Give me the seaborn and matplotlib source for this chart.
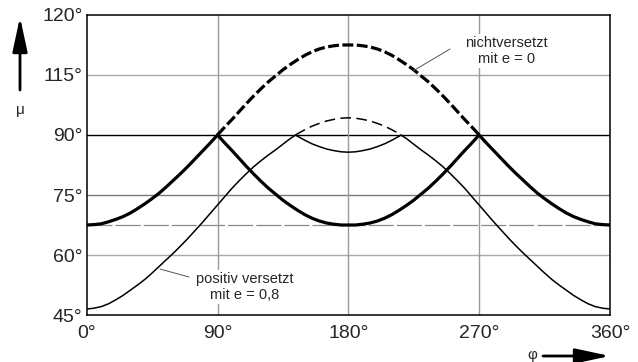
import numpy as np
import pandas as pd
import matplotlib
matplotlib.use("Agg")
import matplotlib.pyplot as plt
import seaborn as sns

# ---------------- data ----------------
# crank angle, 0° .. 180° (curves are symmetric about 180°)
phi_half = [0, 5, 10, 15, 20, 25, 30, 35, 40, 45, 50, 55, 60, 65, 70, 75, 80, 85, 90,
            95, 100, 105, 110, 115, 120, 125, 130, 135, 140, 145, 150, 155, 160, 165,
            170, 175, 180]
# transmission angle, non-offset (e = 0)
mu_e0_half = [67.5, 67.6, 67.8, 68.3, 68.9, 69.6, 70.5, 71.6, 72.8, 74.1, 75.5, 77.1,
              78.8, 80.5, 82.3, 84.2, 86.1, 88.0, 90.0, 92.0, 93.9, 95.9, 97.9, 99.8,
              101.6, 103.3, 104.8, 106.3, 107.6, 108.8, 109.9, 110.8, 111.5, 112.0,
              112.3, 112.5, 112.5]
# transmission angle, positive offset (e = 0.8)
mu_e08_half = [46.5, 46.7, 47.1, 47.8, 48.8, 49.9, 51.2, 52.5, 53.9, 55.5, 57.2, 58.9,
               60.6, 62.4, 64.3, 66.3, 68.3, 70.4, 72.5, 74.6, 76.7, 78.6, 80.4, 82.1,
               83.6, 85.0, 86.3, 87.7, 89.1, 90.3, 91.3, 92.2, 92.9, 93.5, 93.9, 94.2,
               94.3]

x_ticks = [0, 90, 180, 270, 360]
x_labels = ["0°", "90°", "180°", "270°", "360°"]
y_ticks = [45, 60, 75, 90, 105, 120]
y_labels = ["45°", "60°", "75°", "90°", "115°", "120°"]
ref_line = 67.5

# full revolution (mirror of the read half)
phi = phi_half + [360 - p for p in phi_half[-2::-1]]
mu_e0 = mu_e0_half + mu_e0_half[-2::-1]
mu_e08 = mu_e08_half + mu_e08_half[-2::-1]


# ---------------- helpers ----------------
def with_crossings(x, y, level=90.0):
    """insert the points where the curve crosses `level`"""
    xs, ys = [x[0]], [y[0]]
    for i in range(1, len(x)):
        y0, y1 = y[i - 1], y[i]
        if (y0 - level) * (y1 - level) < 0:
            t = (level - y0) / (y1 - y0)
            xs.append(x[i - 1] + t * (x[i] - x[i - 1]))
            ys.append(level)
        xs.append(x[i])
        ys.append(y[i])
    return np.array(xs, float), np.array(ys, float)


def draw(ax, x, y, lw, dash):
    xs, ys = with_crossings(x, y)
    folded = np.minimum(ys, 180 - ys)
    df = pd.DataFrame({"phi": xs, "mu": folded})
    sns.lineplot(data=df, x="phi", y="mu", ax=ax, color="black", lw=lw,
                 estimator=None, sort=False, solid_joinstyle="miter", zorder=3)
    upper = np.where(ys >= 90 - 1e-9, ys, np.nan)
    du = pd.DataFrame({"phi": xs, "mu": upper})
    sns.lineplot(data=du, x="phi", y="mu", ax=ax, color="black", lw=lw,
                 estimator=None, sort=False, linestyle=(0, dash), zorder=3)


# ---------------- figure ----------------
sns.set_style("white")
plt.rcParams["font.family"] = ["Liberation Sans", "DejaVu Sans"]

fig = plt.figure(figsize=(6.38, 3.62), dpi=100)
ax = fig.add_axes([0.1359, 0.1298, 0.8201, 0.8288])

ax.set_xlim(0, 360)
ax.set_ylim(45, 120)

# grid
for v in [60, 105]:
    ax.axhline(v, color="#a8a8a8", lw=1.0, zorder=1)
ax.axhline(75, color="#7a7a7a", lw=1.0, zorder=1)
ax.axhline(90, color="black", lw=1.0, zorder=1)
ax.axhline(ref_line, color="#8a8a8a", lw=0.9, linestyle=(0, (20, 2.5)), zorder=1)
for v in [90, 180, 270]:
    ax.axvline(v, color="#9a9a9a", lw=1.0, zorder=1)

draw(ax, phi, mu_e0, 2.3, (3.4, 1.1))
draw(ax, phi, mu_e08, 1.1, (7.0, 3.5))

ax.set_xticks(x_ticks)
ax.set_xticklabels(x_labels, fontsize=14)
ax.set_yticks(y_ticks)
ax.set_yticklabels(y_labels, fontsize=14)
ax.tick_params(axis="x", length=0, pad=7)
ax.tick_params(axis="y", length=0, pad=3)
ax.set_xlabel("")
ax.set_ylabel("")
for s in ax.spines.values():
    s.set_visible(True)
    s.set_color("black")
    s.set_linewidth(1.1)

# labels with their pointer lines
box = dict(boxstyle="square,pad=0.2", fc="white", ec="none")
ax.text(289, 111.0, "nichtversetzt\nmit e = 0", ha="center", va="center",
        fontsize=10.5, linespacing=1.1, bbox=box, zorder=5)
ax.plot([250, 224.5], [111.5, 106.0], color="#555555", lw=0.7, zorder=4)
ax.text(109, 52.0, "positiv versetzt\nmit e = 0,8", ha="center", va="center",
        fontsize=10.5, linespacing=1.1, bbox=box, zorder=5)
ax.plot([70.4, 50.4], [54.5, 56.5], color="#555555", lw=0.7, zorder=4)

# axis arrows (figure pixels)
ax.annotate("", xy=(20, 345), xytext=(20, 272), xycoords="figure pixels",
            textcoords="figure pixels",
            arrowprops=dict(arrowstyle="-|>,head_length=2.1,head_width=0.45",
                            color="black", lw=2.0, shrinkA=0, shrinkB=0))
fig.text(20 / 638, (362 - 110) / 362, "μ", ha="center", va="center", fontsize=11)

ax.annotate("", xy=(610, 6), xytext=(543, 6), xycoords="figure pixels",
            textcoords="figure pixels",
            arrowprops=dict(arrowstyle="-|>,head_length=2.1,head_width=0.45",
                            color="black", lw=2.0, shrinkA=0, shrinkB=0))
fig.text(532 / 638, 7 / 362, "φ", ha="center", va="center", fontsize=11)

fig.savefig("out.png", dpi=100)
